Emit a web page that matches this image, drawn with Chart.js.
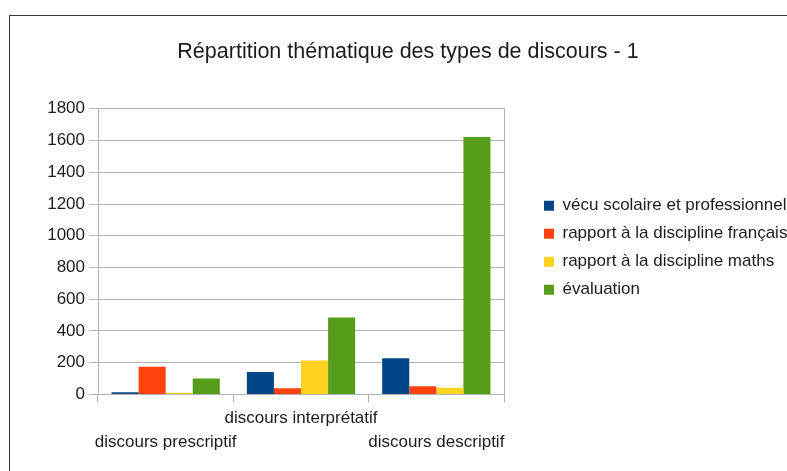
<!DOCTYPE html>
<html>
<head>
<meta charset="utf-8">
<script src="https://cdn.jsdelivr.net/npm/chart.js@4/dist/chart.umd.min.js"></script>
<style>
  html, body { margin: 0; padding: 0; background: #ffffff; overflow: hidden; width: 787px; height: 471px; }
  #frame { position: absolute; left: 9px; top: 15px; width: 900px; height: 500px; border-left: 1px solid #3a3a3a; border-top: 1px solid #3a3a3a; }
  #wrap { position: absolute; left: 19px; top: 16px; width: 778px; height: 452px; }
</style>
</head>
<body>
<div id="frame"></div>
<div id="wrap"><canvas id="c" width="778" height="452"></canvas></div>
<script>
const title = 'Répartition thématique des types de discours - 1';
const categories = ['discours prescriptif', 'discours interprétatif', 'discours descriptif'];
const seriesNames = ['vécu scolaire et professionnel', 'rapport à la discipline français', 'rapport à la discipline maths', 'évaluation'];
const vecu = [14, 141, 228];
const francais = [175, 38, 52];
const maths = [11, 213, 42];
const evaluation = [100, 484, 1622];
const yTicks = [0, 200, 400, 600, 800, 1000, 1200, 1400, 1600, 1800];
const colors = ['#004586', '#ff420e', '#ffd320', '#579d1c'];

const seriesValues = [vecu, francais, maths, evaluation];
const staggered = categories.map((c, i) => (i % 2 === 1 ? [c, ''] : ['', c]));

const FONT = 'Liberation Sans, Arial, sans-serif';
const TXT = '#1c1c1c';
const GRID = '#b3b3b3';

new Chart(document.getElementById('c'), {
  type: 'bar',
  data: {
    labels: staggered,
    datasets: seriesNames.map((n, i) => ({
      label: n,
      data: seriesValues[i],
      backgroundColor: colors[i],
      borderWidth: 0,
      categoryPercentage: 0.8,
      barPercentage: 1.0,
      yAxisID: 'y'
    }))
  },
  options: {
    responsive: false,
    animation: false,
    layout: { padding: { left: 0, right: 0, top: 0, bottom: 10 } },
    plugins: {
      title: {
        display: true,
        text: title,
        color: TXT,
        font: { family: FONT, size: 21.5, weight: 'normal', lineHeight: 1.2 },
        padding: { top: 23, bottom: 44 }
      },
      legend: {
        display: true,
        position: 'right',
        align: 'start',
        fullSize: false,
        maxWidth: 264,
        title: { display: true, text: '', font: { size: 10, lineHeight: 1 }, padding: { top: 67.5, bottom: 0 } },
        labels: {
          color: TXT,
          font: { family: FONT, size: 17 },
          boxWidth: 10,
          boxHeight: 10,
          padding: 11
        }
      },
      tooltip: { enabled: false }
    },
    scales: {
      x: {
        grid: { display: true, drawOnChartArea: false, drawTicks: true, tickLength: 8, tickColor: GRID, offset: true },
        border: { display: true, color: GRID },
        ticks: { color: TXT, font: { family: FONT, size: 17, lineHeight: 1.4 }, padding: 4, maxRotation: 0, minRotation: 0, autoSkip: false }
      },
      y: {
        position: 'left',
        min: 0,
        max: yTicks[yTicks.length - 1],
        afterBuildTicks: (scale) => { scale.ticks = yTicks.map(v => ({ value: v })); },
        afterFit: (scale) => { scale.width = 79; },
        grid: { color: GRID, drawTicks: true, tickLength: 9, tickColor: GRID },
        border: { display: true, color: GRID },
        ticks: { color: TXT, font: { family: FONT, size: 17 }, padding: 4, callback: (v) => String(v) }
      },
      y2: {
        position: 'right',
        min: 0,
        max: yTicks[yTicks.length - 1],
        grid: { drawOnChartArea: false, drawTicks: true, tickLength: 29, tickColor: 'rgba(0,0,0,0)' },
        border: { display: true, color: GRID },
        ticks: { display: false }
      }
    }
  }
});
</script>
</body>
</html>
